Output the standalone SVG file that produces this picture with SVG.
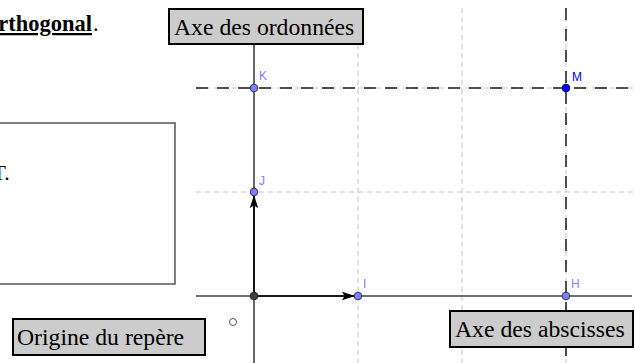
<svg xmlns="http://www.w3.org/2000/svg" width="635" height="363" viewBox="0 0 635 363">
<style>
.serif{font-family:"Liberation Serif","Times New Roman",serif;fill:#000}
.lbl{font-family:"Liberation Sans",Arial,sans-serif;font-size:12px;fill:#7f7fff}
.grid{stroke:#c4c4c4;stroke-width:1;stroke-dasharray:5,4;fill:none}
.dash{stroke:#1a1a1a;stroke-width:1.5;stroke-dasharray:12,9;fill:none}
.axis{stroke:#404040;stroke-width:1.6;fill:none}
.vec{stroke:#000;stroke-width:1.6;fill:none}
.pt{fill:#7f7fff;stroke:#333366;stroke-width:1}
.box{fill:#cccccc;stroke:#000;stroke-width:2}
</style>
<defs>
<marker id="arr" markerWidth="14" markerHeight="10" refX="13" refY="5" orient="auto" markerUnits="userSpaceOnUse">
<path d="M0,0.8 L13,5 L0,9.2 L2.5,5 Z" fill="#000"/>
</marker>
</defs>
<rect width="635" height="363" fill="#fff"/>
<g id="title">
<text class="serif" x="92" y="31" font-size="22.5" font-weight="bold" text-anchor="end" text-decoration="underline">rthogonal</text>
<text class="serif" x="93" y="31" font-size="22.5">.</text>
</g>
<g id="grid">
<line class="grid" x1="358" y1="8" x2="358" y2="363"/>
<line class="grid" x1="462" y1="8" x2="462" y2="363"/>
<line class="grid" x1="566" y1="8" x2="566" y2="363"/>
<line class="grid" x1="196" y1="192" x2="635" y2="192"/>
<line class="grid" x1="196" y1="88" x2="635" y2="88"/>
</g>
<g id="connectors">
<line class="dash" x1="196" y1="88" x2="635" y2="88"/>
<line class="dash" x1="566" y1="8" x2="566" y2="363"/>
<line class="axis" x1="196" y1="296" x2="632" y2="296"/>
<line class="axis" x1="254" y1="40" x2="254" y2="363"/>
<line class="vec" x1="254" y1="296" x2="355" y2="296" marker-end="url(#arr)"/>
<line class="vec" x1="254" y1="296" x2="254" y2="195" marker-end="url(#arr)"/>
</g>
<g id="textbox">
<rect x="-3" y="123" width="178" height="161" fill="#fff" stroke="#555" stroke-width="1.5"/>
<text class="serif" x="-7.5" y="180" font-size="22">T.</text>
</g>
<g id="O"><circle cx="254" cy="296" r="3.8" fill="#404040" stroke="#222" stroke-width="1"/></g>
<g id="I"><circle class="pt" cx="358" cy="296" r="3.8"/><text class="lbl" x="363" y="288">I</text></g>
<g id="J"><circle class="pt" cx="254" cy="192" r="3.8"/><text class="lbl" x="259" y="185">J</text></g>
<g id="K"><circle class="pt" cx="254" cy="88" r="3.8"/><text class="lbl" x="259" y="80">K</text></g>
<g id="M"><circle cx="566" cy="88" r="3.8" fill="#0000ff" stroke="#000066" stroke-width="1"/><text class="lbl" x="572" y="81" style="fill:#0000ff">M</text></g>
<g id="H"><circle class="pt" cx="566" cy="296" r="3.8"/><text class="lbl" x="571" y="288">H</text></g>
<g id="o-mark"><circle cx="233" cy="322" r="3.5" fill="#fff" stroke="#555" stroke-width="1"/></g>
<g id="axe-ordonnees">
<rect class="box" x="169" y="9" width="194" height="35"/>
<text class="serif" x="174" y="35" font-size="23.7">Axe des ordonnées</text>
</g>
<g id="origine">
<rect class="box" x="13" y="319" width="192" height="36"/>
<text class="serif" x="17" y="345" font-size="23.7">Origine du repère</text>
</g>
<g id="axe-abscisses">
<rect class="box" x="450" y="311" width="183" height="36"/>
<text class="serif" x="455" y="337" font-size="23.7">Axe des abscisses</text>
</g>
</svg>
